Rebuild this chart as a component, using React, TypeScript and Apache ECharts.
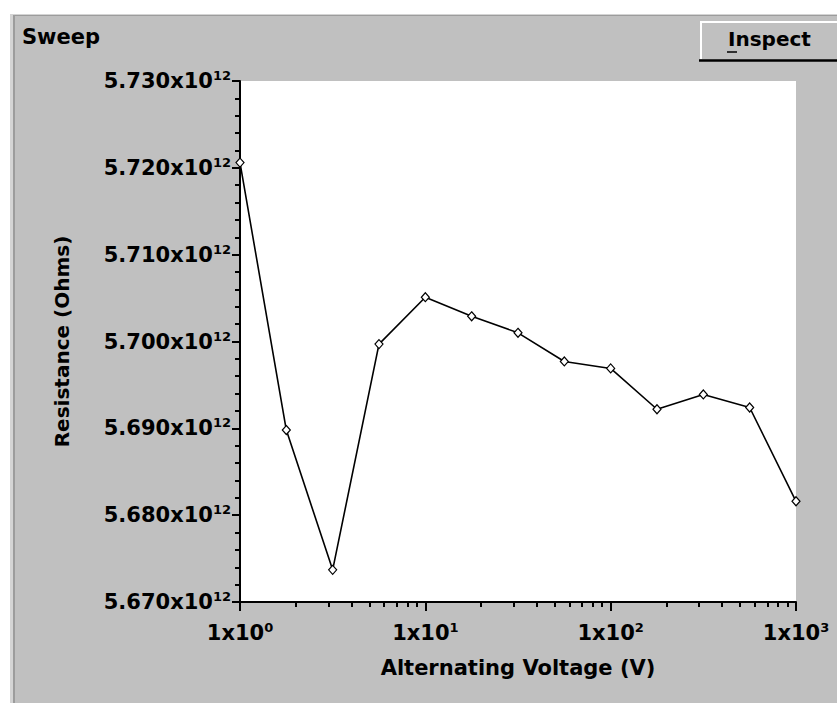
import React, { useEffect, useRef } from "react";
import * as echarts from "echarts";

// Data
const voltages = [1, 1.778, 3.162, 5.623, 10, 17.78, 31.62, 56.23, 100, 177.8, 316.2, 562.3, 1000];
const resistances = [
  5.7206e12, 5.6898e12, 5.6737e12, 5.6997e12, 5.7051e12, 5.7029e12, 5.701e12,
  5.6977e12, 5.6969e12, 5.6922e12, 5.6939e12, 5.6924e12, 5.6816e12,
];
const xMinorTicks = [2, 3, 4, 5, 6, 7, 8, 9, 20, 30, 40, 50, 60, 70, 80, 90, 200, 300, 400, 500, 600, 700, 800, 900];
const yMin = 5.67e12;
const yMax = 5.73e12;
const yStep = 0.01e12;
const xMin = 1;
const xMax = 1000;

const FONT = '"DejaVu Sans", sans-serif';

export default function App() {
  const ref = useRef<HTMLDivElement>(null);
  useEffect(() => {
    document.body.style.margin = "0";
    const chart = echarts.init(ref.current!, undefined, { renderer: "svg" });
    const richLabel = {
      a: { fontSize: 21, fontWeight: "bold", fontFamily: FONT, color: "#000", lineHeight: 24 },
      s: { fontSize: 13, fontWeight: "bold", fontFamily: FONT, color: "#000", lineHeight: 14, verticalAlign: "top" },
    };
    chart.setOption({
      animation: false,
      grid: {
        left: 240,
        right: 41,
        top: 81,
        bottom: 101,
        show: true,
        backgroundColor: "#fff",
        borderWidth: 0,
        containLabel: false,
        outerBoundsMode: "none",
      },
      xAxis: [
        {
          type: "log",
          logBase: 10,
          min: xMin,
          max: xMax,
          position: "bottom",
          name: "Alternating Voltage (V)",
          nameLocation: "middle",
          nameGap: 55,
          nameTextStyle: { fontSize: 21, fontWeight: "bold", fontFamily: FONT, color: "#000" },
          axisLine: { show: true, lineStyle: { color: "#000", width: 2 } },
          axisTick: { show: true, inside: false, length: 9, lineStyle: { color: "#000", width: 2 } },
          axisLabel: {
            show: true,
            margin: 19,
            formatter: (v: number) => `{a|1x10}{s|${Math.round(Math.log10(v))}}`,
            rich: richLabel,
          },
          splitLine: { show: false },
          minorTick: { show: false },
        },
        {
          type: "log",
          logBase: 10,
          min: xMin,
          max: xMax,
          position: "bottom",
          axisLine: { show: false },
          axisLabel: { show: false },
          axisTick: { show: true, inside: false, length: 5, customValues: xMinorTicks, lineStyle: { color: "#000", width: 2 } },
          splitLine: { show: false },
        },
      ],
      yAxis: {
        type: "value",
        min: yMin,
        max: yMax,
        interval: yStep,
        name: "Resistance (Ohms)",
        nameLocation: "middle",
        nameGap: 168,
        nameRotate: 90,
        nameTextStyle: { fontSize: 20, fontWeight: "bold", fontFamily: FONT, color: "#000" },
        axisLine: { show: true, lineStyle: { color: "#000", width: 2 } },
        axisTick: { show: true, inside: false, length: 8, lineStyle: { color: "#000", width: 2 } },
        minorTick: { show: true, splitNumber: 5, length: 5, lineStyle: { color: "#000", width: 2 } },
        axisLabel: {
          show: true,
          margin: 9,
          formatter: (v: number) => `{a|${(v / 1e12).toFixed(3)}x10}{s|12}`,
          rich: richLabel,
        },
        splitLine: { show: false },
        minorSplitLine: { show: false },
      },
      series: [
        {
          type: "line",
          xAxisIndex: 0,
          data: voltages.map((v, i) => [v, resistances[i]]),
          symbol: "diamond",
          symbolSize: [8, 9],
          showSymbol: true,
          clip: true,
          itemStyle: { color: "#fff", borderColor: "#000", borderWidth: 1.2 },
          lineStyle: { color: "#000", width: 1.6 },
          z: 3,
        },
      ],
      graphic: [
        {
          type: "text",
          x: 22,
          y: 37,
          style: { text: "Sweep", font: `bold 21px ${FONT}`, fill: "#000", textAlign: "left", textVerticalAlign: "middle", align: "left", verticalAlign: "middle" },
        },
        { type: "rect", shape: { x: 700, y: 21, width: 137, height: 39 }, style: { fill: "#c0c0c0" } },
        { type: "line", shape: { x1: 700, y1: 22, x2: 837, y2: 22 }, style: { stroke: "#fff", lineWidth: 2 } },
        { type: "line", shape: { x1: 701, y1: 21, x2: 701, y2: 59 }, style: { stroke: "#fff", lineWidth: 2 } },
        { type: "line", shape: { x1: 699, y1: 60.5, x2: 837, y2: 60.5 }, style: { stroke: "#000", lineWidth: 2.5 } },
        {
          type: "text",
          x: 728,
          y: 39,
          style: { text: "Inspect", font: `bold 20px ${FONT}`, fill: "#000", textAlign: "left", textVerticalAlign: "middle", align: "left", verticalAlign: "middle" },
        },
        { type: "line", shape: { x1: 727, y1: 52, x2: 737, y2: 52 }, style: { stroke: "#000", lineWidth: 1.5 } },
      ],
    });
    return () => chart.dispose();
  }, []);

  return (
    <div style={{ position: "fixed", left: 0, top: 0, width: 837, height: 703, background: "#fff" }}>
      <div style={{ position: "absolute", left: 10, top: 14, width: 827, height: 689, background: "#d4d4d4" }} />
      <div
        style={{
          position: "absolute",
          left: 13,
          top: 15,
          width: 824,
          height: 688,
          background: "#c0c0c0",
          borderLeft: "2px solid #9c9c9c",
          borderTop: "1px solid #9c9c9c",
          boxSizing: "border-box",
        }}
      />
      <div ref={ref} style={{ position: "absolute", left: 0, top: 0, width: 837, height: 703 }} />
    </div>
  );
}
